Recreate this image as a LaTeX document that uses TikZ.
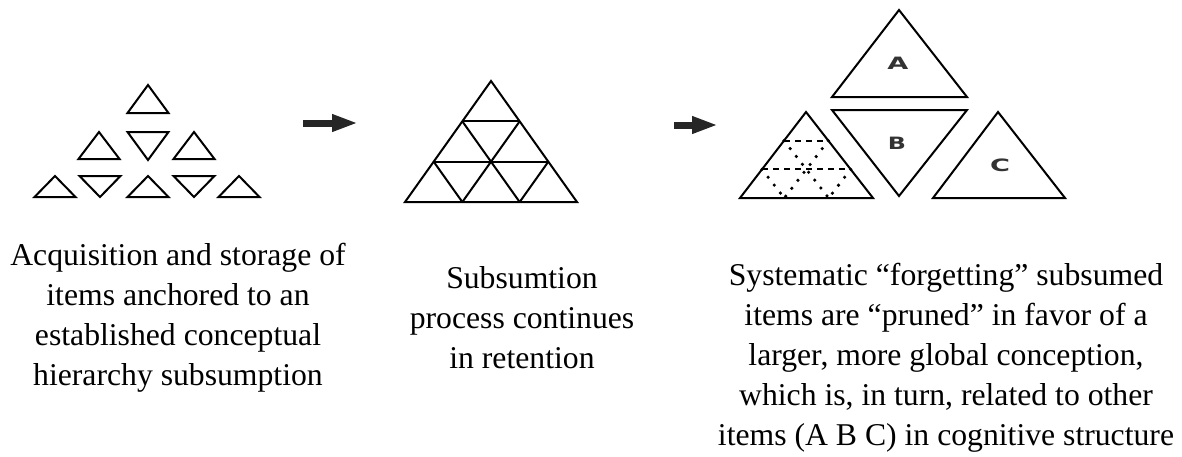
\documentclass[tikz,border=0pt]{standalone}
\usepackage{fontspec}
\setmainfont{Liberation Serif}
\setsansfont{DejaVu Sans}
\usepackage{graphicx}
\usetikzlibrary{calc, arrows.meta}

\begin{document}
\begin{tikzpicture}[x=0.5pt, y=-0.5pt, line width=1pt,
  caption/.style={align=center, anchor=base, inner sep=0pt,
    font=\fontsize{15.85}{20}\selectfont},
  letter/.style={font=\sffamily\bfseries\fontsize{8.5}{10}\selectfont, text=black!80},
  push/.style={line width=3.5pt, color=black!85, -{Triangle[length=13pt, width=8pt]}}]
  \useasboundingbox (0, 0) rectangle (1182, 456);

  % loose items, upright and upside down
  \foreach \x/\t/\b in {148/85/113, 99/132/159, 194/132/159,
                        55/176/197, 148/176/197, 239/176/197} {
    \draw (\x - 20.5, \b) -- (\x, \t) -- (\x + 20.5, \b) -- cycle;
  }
  \foreach \x/\t/\b in {148/132/160, 100/176/197, 194/176/197} {
    \draw (\x - 20.5, \t) -- (\x, \b) -- (\x + 20.5, \t) -- cycle;
  }

  \coordinate (s1) at (303, 123);
  \coordinate (e1) at (358, 123);
  \draw [push] (s1) -- (e1);

  % subsumed items, one big triangle cut in nine
  \coordinate (mt) at (491, 81);
  \coordinate (ml) at (405, 202);
  \coordinate (mr) at (577, 202);
  \draw (ml) -- (mt) -- (mr) -- cycle;
  \foreach \k in {1, 2} {
    \draw ($(mt)!\k/3!(ml)$) -- ($(mt)!\k/3!(mr)$);
    \draw ($(ml)!\k/3!(mt)$) -- ($(ml)!\k/3!(mr)$);
    \draw ($(mr)!\k/3!(mt)$) -- ($(mr)!\k/3!(ml)$);
  }

  \coordinate (s2) at (674, 125);
  \coordinate (e2) at (718, 125);
  \draw [push] (s2) -- (e2);

  % pruned triangle, its old cuts only faintly left
  \coordinate (pt) at (806, 112);
  \coordinate (pl) at (740, 198);
  \coordinate (pr) at (873, 198);
  \draw (pl) -- (pt) -- (pr) -- cycle;
  \foreach \k in {1, 2} {
    \draw [dash pattern=on 3pt off 2.5pt] ($(pt)!\k/3!(pl)$) -- ($(pt)!\k/3!(pr)$);
    \draw [line cap=round, dash pattern=on 0pt off 5pt, line width=1.8pt]
      ($(pl)!\k/3!(pt)$) -- ($(pl)!\k/3!(pr)$);
    \draw [line cap=round, dash pattern=on 0pt off 5pt, line width=1.8pt]
      ($(pr)!\k/3!(pt)$) -- ($(pr)!\k/3!(pl)$);
  }

  % related items A, B and C
  \draw (832, 97) -- (899, 10) -- (967, 97) -- cycle;
  \draw (832, 110) -- (899, 196) -- (967, 110) -- cycle;
  \draw (933, 198) -- (998, 112) -- (1065, 198) -- cycle;
  \node [letter] (la) at (898, 63) {\scalebox{1.6}[1]{A}};
  \node [letter] (lb) at (897, 143) {\scalebox{1.4}[1]{B}};
  \node [letter] (lc) at (1000, 165) {\scalebox{1.6}[1]{C}};

  % captions, placed by the baseline of their last line
  \node [caption] (acq) at (178, 385) {Acquisition and storage of\\
    items anchored to an\\ established conceptual\\ hierarchy subsumption};
  \node [caption] (sub) at (522, 368) {Subsumtion\\ process continues\\ in retention};
  \node [caption] (sys) at (946, 445) {Systematic “forgetting” subsumed\\
    items are “pruned” in favor of a\\ larger, more global conception,\\
    which is, in turn, related to other\\ items (A B C) in cognitive structure};
\end{tikzpicture}
\end{document}
